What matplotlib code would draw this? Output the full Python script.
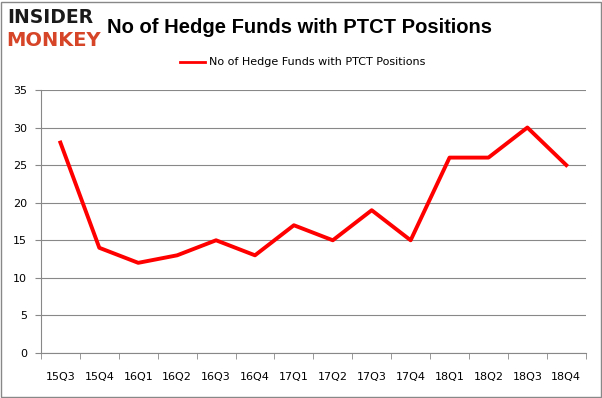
import matplotlib
matplotlib.use("Agg")
import matplotlib.pyplot as plt
from matplotlib.patches import Rectangle
from matplotlib.lines import Line2D

quarters = ["15Q3", "15Q4", "16Q1", "16Q2", "16Q3", "16Q4", "17Q1", "17Q2",
            "17Q3", "17Q4", "18Q1", "18Q2", "18Q3", "18Q4"]
funds = [28, 14, 12, 13, 15, 13, 17, 15, 19, 15, 26, 26, 30, 25]
series_name = "No of Hedge Funds with PTCT Positions"
title = "No of Hedge Funds with PTCT Positions"

fig = plt.figure(figsize=(6.02, 3.98), dpi=100)
fig.patch.set_facecolor("white")
fig.add_artist(Rectangle((0.002, 0.002), 0.996, 0.994, transform=fig.transFigure,
                         fill=False, edgecolor="#888888", linewidth=1.0))

ax = fig.add_axes([0.068, 0.113, 0.905, 0.661])
x = list(range(len(quarters)))
ax.plot(x, funds, color="#ff0000", linewidth=2.8, solid_joinstyle="round", label=series_name)
ax.set_xlim(-0.5, len(quarters) - 0.5)
ax.set_ylim(0, 35)
ax.set_yticks(range(0, 36, 5))
ax.set_xticks(x)
ax.set_xticklabels(quarters)
ax.set_xticks([i - 0.5 for i in range(len(quarters) + 1)], minor=True)
ax.tick_params(axis="x", which="major", length=0, pad=14, labelsize=8)
ax.tick_params(axis="x", which="minor", length=4, color="#888888")
ax.tick_params(axis="y", length=4, color="#888888", labelsize=8, pad=6)
ax.grid(axis="y", color="#888888", linewidth=0.8)
ax.set_axisbelow(True)
for s in ["top", "right"]:
    ax.spines[s].set_visible(False)
for s in ["left", "bottom"]:
    ax.spines[s].set_color("#888888")

fig.text(0.012, 0.955, "INSIDER", fontsize=13.5, fontweight="heavy", color="#1a1a1a",
         family="DejaVu Sans", va="center", ha="left")
fig.text(0.010, 0.898, "MONKEY", fontsize=14, fontweight="heavy", color="#d64527",
         family="DejaVu Sans", va="center", ha="left")
fig.text(0.178, 0.930, title, fontsize=14.5, fontweight="bold", color="black",
         family="Liberation Sans", va="center", ha="left")

handle = Line2D([], [], color="#ff0000", linewidth=2)
fig.legend([handle], [series_name], loc="center", bbox_to_anchor=(0.503, 0.843),
           frameon=False, fontsize=8, handlelength=2.2, handletextpad=0.4)

fig.savefig("out.png", dpi=100)
